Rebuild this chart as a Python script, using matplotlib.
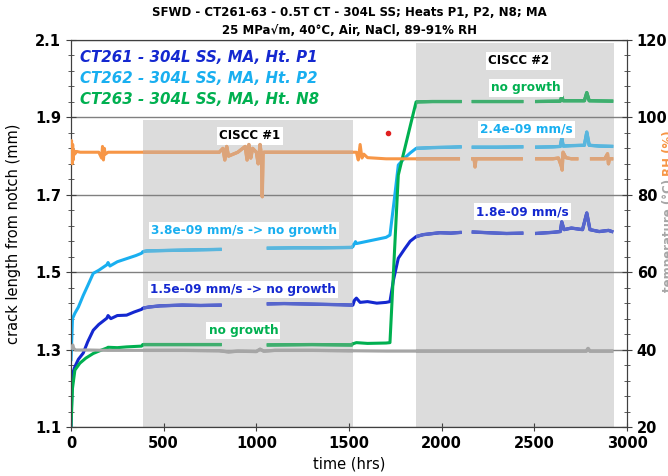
import numpy as np
import matplotlib
matplotlib.use('Agg')
import matplotlib.pyplot as plt
from matplotlib.patches import Rectangle
from matplotlib.transforms import blended_transform_factory

nan = np.nan

# CISCC exposure windows (hrs)
ciscc1 = (387, 1521)
ciscc2 = (1862, 2928)

# CT261 - dark blue, crack length (mm)
ct261_t = [0, 5, 10, 21, 40, 66, 90, 120, 150, 193, 200, 215, 250, 300, 340, 381, 387, 420, 480, 600, 700, 813, 820,
           1056, 1150, 1250, 1350, 1450, 1515, 1521, 1530, 1540, 1560, 1600, 1650, 1700, 1721, 1740, 1766, 1800, 1830,
           1862, 1900, 1990, 2050, 2108, 2130, 2162, 2250, 2350, 2441, 2470, 2504, 2600, 2640, 2648, 2660, 2700, 2760,
           2783, 2800, 2850, 2900, 2926]
ct261_mm = [1.10, 1.20, 1.24, 1.256, 1.275, 1.291, 1.32, 1.35, 1.365, 1.381, 1.388, 1.380, 1.388, 1.389, 1.397, 1.404,
            1.407, 1.410, 1.413, 1.415, 1.414, 1.415, nan,
            1.418, 1.419, 1.418, 1.417, 1.416, 1.415, 1.415, 1.428, 1.433, 1.422, 1.424, 1.420, 1.422, 1.424, 1.48,
            1.536, 1.56, 1.58,
            1.592, 1.597, 1.602, 1.601, 1.603, nan, 1.604, 1.602, 1.600, 1.601, nan, 1.600, 1.603, 1.605, 1.63, 1.61,
            1.614, 1.610, 1.653, 1.610, 1.605, 1.608, 1.604]

# CT262 - light blue
ct262_t = [0, 8, 21, 40, 66, 90, 120, 150, 193, 200, 210, 250, 300, 350, 381, 387, 410, 500, 600, 700, 813, 820,
           1056, 1200, 1350, 1515, 1521, 1535, 1540, 1600, 1650, 1700, 1721, 1745, 1766, 1800, 1830,
           1862, 1950, 2050, 2108, 2130, 2162, 2300, 2441, 2470, 2504, 2600, 2640, 2648, 2656, 2700, 2770, 2783, 2796,
           2850, 2926]
ct262_mm = [1.27, 1.38, 1.394, 1.41, 1.44, 1.465, 1.497, 1.505, 1.519, 1.525, 1.516, 1.527, 1.535, 1.543, 1.549, 1.553,
            1.555, 1.556, 1.557, 1.558, 1.559, nan,
            1.562, 1.563, 1.563, 1.564, 1.566, 1.579, 1.574, 1.580, 1.585, 1.590, 1.596, 1.69, 1.777, 1.795, 1.808,
            1.82, 1.822, 1.823, 1.824, nan, 1.823, 1.823, 1.824, nan, 1.823, 1.824, 1.825, 1.846, 1.826, 1.827, 1.828,
            1.862, 1.828, 1.826, 1.825]

# CT263 - green
ct263_t = [0, 8, 21, 48, 80, 120, 160, 193, 200, 250, 300, 381, 387, 500, 813, 820,
           1056, 1300, 1515, 1521, 1540, 1600, 1700, 1721, 1766,
           1862, 1950, 2108, 2130, 2162, 2441, 2470, 2504, 2640, 2648, 2656, 2770, 2783, 2796, 2926]
ct263_mm = [1.10, 1.20, 1.247, 1.265, 1.278, 1.29, 1.298, 1.304, 1.306, 1.305, 1.307, 1.309, 1.313, 1.313, 1.313, nan,
            1.312, 1.313, 1.312, 1.315, 1.318, 1.316, 1.317, 1.318, 1.751,
            1.94, 1.941, 1.941, nan, 1.941, 1.941, nan, 1.941, 1.942, 1.954, 1.943, 1.943, 1.964, 1.943, 1.942]

# relative humidity (%) - right axis
rh_t = [0, 3, 6, 9, 12, 15, 20, 30, 50, 100, 150, 165, 170, 175, 180, 185, 200, 300, 387, 500, 600, 700, 800,
        820, 830, 840, 850, 900, 940, 950, 960, 970, 980, 1000, 1010, 1020, 1028, 1032, 1036, 1040, 1060, 1100, 1200,
        1300, 1400, 1500, 1521, 1540, 1550, 1560, 1570, 1580, 1600, 1700, 1800,
        1862, 1950, 2099, 2130, 2159, 2175, 2180, 2185, 2200, 2300, 2438, 2470, 2504, 2600, 2630, 2645, 2650, 2655,
        2670, 2700, 2738, 2770, 2800, 2880, 2895, 2900, 2905, 2926]
rh_pct = [91, 94, 88, 93, 89, 91.5, 90.5, 91.2, 91, 91, 91, 89.5, 92.5, 89, 92, 90.5, 91, 91, 91, 91, 91, 91, 91,
          92, 89, 92.5, 90, 91, 92.5, 89, 93, 89.5, 92, 91, 88, 93, 90, 79.5, 90.5, 91, 91, 91, 91,
          91, 91, 91, 91, 91, 89, 93, 89.5, 90.5, 89.6, 89.3, 89.3,
          89.3, 89.3, 89.3, nan, 89.3, 89.3, 87.2, 89.3, 89.3, 89.3, 89.3, nan, 89.3, 89.3, 89.5, 87.5, 86.4, 91,
          89.6, 89.3, 89.3, nan, 89.3, 89.3, 90.6, 88, 89.3, 89.3]

# temperature (degC) - right axis
temp_t = [0, 5, 10, 15, 25, 50, 100, 200, 300, 400, 600, 800, 850, 900, 1000, 1020, 1040, 1100, 1300, 1500, 1700,
          1900, 2100, 2300, 2500, 2700, 2780, 2790, 2800, 2926]
temp_c = [40.0, 40.8, 41.2, 40.3, 39.9, 39.9, 39.9, 39.8, 39.8, 39.8, 39.8, 39.7, 39.4, 39.6, 39.5, 40.1, 39.6, 39.8,
          39.8, 39.7, 39.6, 39.6, 39.6, 39.6, 39.6, 39.6, 39.6, 40.3, 39.6, 39.6]

# red marker
marker_t = [1712]
marker_mm = [1.86]

plt.rcParams['font.family'] = 'DejaVu Sans'
plt.rcParams['font.weight'] = 'bold'

fig = plt.figure(figsize=(6.68, 4.76), dpi=100)
ax = fig.add_axes([71 / 668, 49 / 476, 556 / 668, 387 / 476])
ax2 = ax.twinx()

ax.axvspan(*ciscc1, ymin=0, ymax=0.793, color='#dcdcdc', lw=0, zorder=0)
ax.axvspan(*ciscc2, ymin=0, ymax=0.993, color='#dcdcdc', lw=0, zorder=0)

ax.set_xlim(0, 3000)
ax.set_ylim(1.1, 2.1)
ax2.set_ylim(20, 120)
ax.set_yticks(np.round(np.arange(1.1, 2.11, 0.2), 2))
ax.set_yticks(np.arange(1.1, 2.11, 0.04), minor=True)
ax2.set_yticks(np.arange(20, 121, 20))
ax2.set_yticks(np.arange(20, 121, 4), minor=True)
ax.set_xticks(np.arange(0, 3001, 500))
ax.grid(axis='y', which='major', color='#808080', lw=1, zorder=1)
ax.set_axisbelow(True)

for a in (ax, ax2):
    for s in a.spines.values():
        s.set_color('#404040')
    a.tick_params(which='both', direction='inout', colors='#404040', labelcolor='black', labelsize=10.5)
    a.tick_params(which='major', length=7)
    a.tick_params(which='minor', length=5)
ax.tick_params(axis='x', length=6)

series = [
    (ct261_t, ct261_mm, '#1428d0', '#5766cc', ax),
    (ct262_t, ct262_mm, '#19aff0', '#5ab6dd', ax),
    (ct263_t, ct263_mm, '#00b050', '#3fae6e', ax),
    (rh_t, rh_pct, '#f79646', '#dca47a', ax2),
    (temp_t, temp_c, '#a6a6a6', '#a6a6a6', ax2),
]
for t, y, c_out, c_in, a in series:
    a.plot(t, y, color=c_out, lw=2.2, solid_capstyle='butt', zorder=3)
    # muted colour inside the CISCC windows
    trans = blended_transform_factory(a.transData, a.transAxes)
    for x0, x1 in (ciscc1, ciscc2):
        clip = Rectangle((x0, 0), x1 - x0, 1, transform=trans)
        line, = a.plot(t, y, color=c_in, lw=2.4, solid_capstyle='butt', zorder=3)
        line.set_clip_path(clip)

ax.plot(marker_t, marker_mm, 'o', color='#e02020', ms=3, zorder=4)

box = dict(facecolor='white', edgecolor='none', pad=1.5)
fs = 8.7
ax.text(966, 1.852, 'CISCC #1', ha='center', va='center', fontsize=8.5, color='black', bbox=box, zorder=5)
ax.text(2413, 2.046, 'CISCC #2', ha='center', va='center', fontsize=8.5, color='black', bbox=box, zorder=5)
ax.text(2455, 1.976, 'no growth', ha='center', va='center', fontsize=fs, color='#00b050', bbox=box, zorder=5)
ax.text(2459, 1.869, '2.4e-09 mm/s', ha='center', va='center', fontsize=fs, color='#19aff0', bbox=box, zorder=5)
ax.text(2434, 1.656, '1.8e-09 mm/s', ha='center', va='center', fontsize=fs, color='#1428d0', bbox=box, zorder=5)
ax.text(934, 1.607, '3.8e-09 mm/s -> no growth', ha='center', va='center', fontsize=fs, color='#19aff0', bbox=box,
        zorder=5)
ax.text(930, 1.456, '1.5e-09 mm/s -> no growth', ha='center', va='center', fontsize=fs, color='#1428d0', bbox=box,
        zorder=5)
ax.text(930, 1.349, 'no growth', ha='center', va='center', fontsize=fs, color='#00b050', bbox=box, zorder=5)

legend_items = [('CT261 - 304L SS, MA, Ht. P1', '#1428d0'),
                ('CT262 - 304L SS, MA, Ht. P2', '#19aff0'),
                ('CT263 - 304L SS, MA, Ht. N8', '#00b050')]
for i, (label, c) in enumerate(legend_items):
    fig.text(80 / 668, 1 - (57 + 21.5 * i) / 476, label, color=c, fontsize=10.8, style='italic',
             ha='left', va='center')

fig.text(349 / 668, 1 - 13 / 476, 'SFWD - CT261-63 - 0.5T CT - 304L SS; Heats P1, P2, N8; MA',
         ha='center', va='center', fontsize=8.5)
fig.text(349 / 668, 1 - 30 / 476, '25 MPa\u221am, 40\u00b0C, Air, NaCl, 89-91% RH',
         ha='center', va='center', fontsize=8.5)

ax.set_xlabel('time (hrs)', fontsize=10.5)
ax.set_ylabel('crack length from notch (mm)', fontsize=10.5, labelpad=10)

# right axis label runs off the figure edge
fig.text(662 / 668, 1 - 292 / 476, 'temperature (\u00b0C)', rotation=90, color='#a6a6a6', fontsize=8.5,
         ha='left', va='bottom')
fig.text(662 / 668, 1 - 176 / 476, 'RH (%)', rotation=90, color='#f79646', fontsize=8.5,
         ha='left', va='bottom')

fig.savefig('out.png', dpi=100)
